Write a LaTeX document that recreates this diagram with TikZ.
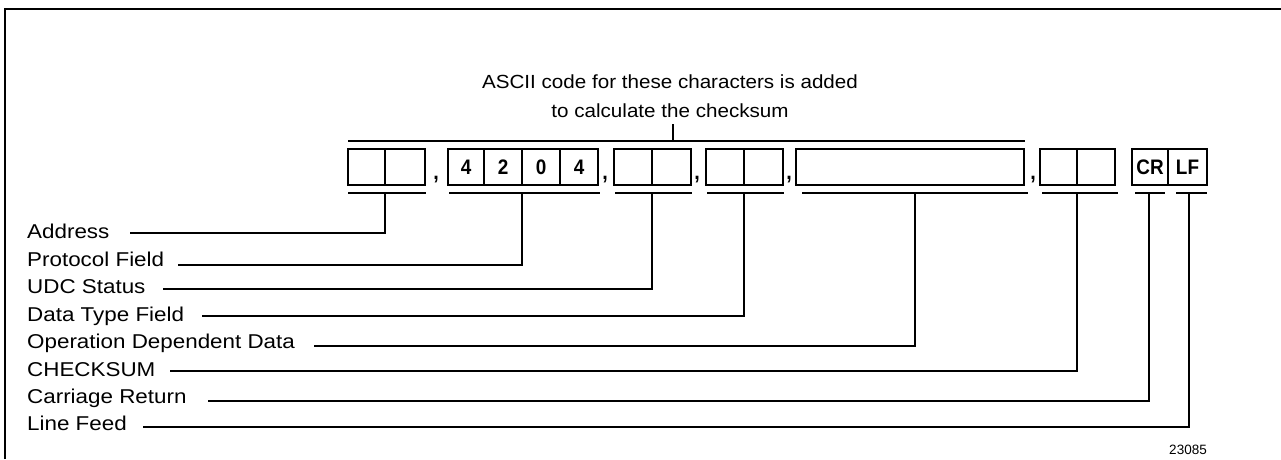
\documentclass[tikz,border=0pt]{standalone}
\usepackage{fontspec}
\setmainfont{Liberation Sans}
\newfontfamily\lblfont[FakeStretch=1.12]{Liberation Sans}
\newfontfamily\hdrfont[FakeStretch=1.085]{Liberation Sans}
\newfontfamily\cellfont[FakeStretch=0.9]{Liberation Sans}
\begin{document}
\begin{tikzpicture}[x=1pt,y=-1pt,
  cell/.style={draw, line width=2.4pt, minimum height=36pt, inner sep=0pt, outer sep=0pt,
    font=\cellfont\bfseries\fontsize{21}{21}\selectfont},
  crlf/.style={cell, line width=1.8pt},
  comma/.style={anchor=base, inner sep=0pt, font=\cellfont\bfseries\fontsize{22}{22}\selectfont},
  lbl/.style={anchor=base west, inner sep=0pt, font=\lblfont\fontsize{20}{22}\selectfont},
  hdr/.style={anchor=base, inner sep=0pt, font=\hdrfont\fontsize{19}{22}\selectfont},
  conn/.style={line width=2pt},
  brk/.style={line width=2.2pt},
  frame/.style={line width=1.8pt}]
\useasboundingbox (0,0) rectangle (1281,459);
% frame
\coordinate (fb) at (5,459); \coordinate (ftl) at (5,9); \coordinate (ftr) at (1281,9);
\draw[frame] (fb) -- (ftl) -- (ftr);
% header
\node[hdr] (hdr1) at (670,88) {ASCII code for these characters is added};
\node[hdr] (hdr2) at (670,117) {to calculate the checksum};
\coordinate (tl) at (348,141); \coordinate (tr) at (1025,141);
\coordinate (tm) at (673,141); \coordinate (tt) at (673,124);
\draw[brk] (tl) -- (tr);
\draw[conn] (tt) -- (tm);
% cells
\node[cell, minimum width=37pt] (a1) at (366.5,167) {};
\node[cell, minimum width=40pt] (a2) at (405,167) {};
\node[comma] (c1) at (436,179) {,};
\node[cell, minimum width=36pt] (p1) at (466,167) {4};
\node[cell, minimum width=38pt] (p2) at (503,167) {2};
\node[cell, minimum width=38pt] (p3) at (541,167) {0};
\node[cell, minimum width=38pt] (p4) at (579,167) {4};
\node[comma] (c2) at (605,179) {,};
\node[cell, minimum width=38pt] (u1) at (633,167) {};
\node[cell, minimum width=39pt] (u2) at (671.5,167) {};
\node[comma] (c3) at (697,179) {,};
\node[cell, minimum width=38pt] (d1) at (725,167) {};
\node[cell, minimum width=39pt] (d2) at (763.5,167) {};
\node[comma] (c4) at (789,179) {,};
\node[cell, minimum width=228pt] (o1) at (910,167) {};
\node[comma] (c5) at (1033,179) {,};
\node[cell, minimum width=37pt] (k1) at (1058.5,167) {};
\node[cell, minimum width=38pt] (k2) at (1096,167) {};
\node[crlf, minimum width=36pt] (cr) at (1150,167) {CR};
\node[crlf, minimum width=39pt] (lf) at (1187.5,167) {LF};
% bottom brackets
\foreach \n/\xa/\xb/\xt in {1/348/426/385, 2/449/600/522, 3/615/692/652, 4/707/784/744,
    5/802/1028/915, 6/1042/1118/1077, 7/1135/1165/1149, 8/1176/1207/1189}{
  \coordinate (bl\n) at (\xa,193);
  \coordinate (br\n) at (\xb,193);
  \coordinate (bt\n) at (\xt,193);
  \draw[brk] (bl\n) -- (br\n);
}
% labels and connectors
\foreach \n/\txt/\yb/\yl/\xs in {1/Address/238/233/130, 2/Protocol Field/266/265/178,
    3/UDC Status/293/289/163, 4/Data Type Field/321/316/202,
    5/Operation Dependent Data/348/346/314, 6/CHECKSUM/376/371/170,
    7/Carriage Return/403/401/208, 8/Line Feed/430/427/143}{
  \node[lbl] (l\n) at (27,\yb) {\txt};
  \coordinate (s\n) at (\xs,\yl);
  \draw[conn] (s\n) -| (bt\n);
}
\node[inner sep=0pt, font=\fontsize{13.5}{14}\selectfont] (fig) at (1188,450) {23085};
\end{tikzpicture}
\end{document}
